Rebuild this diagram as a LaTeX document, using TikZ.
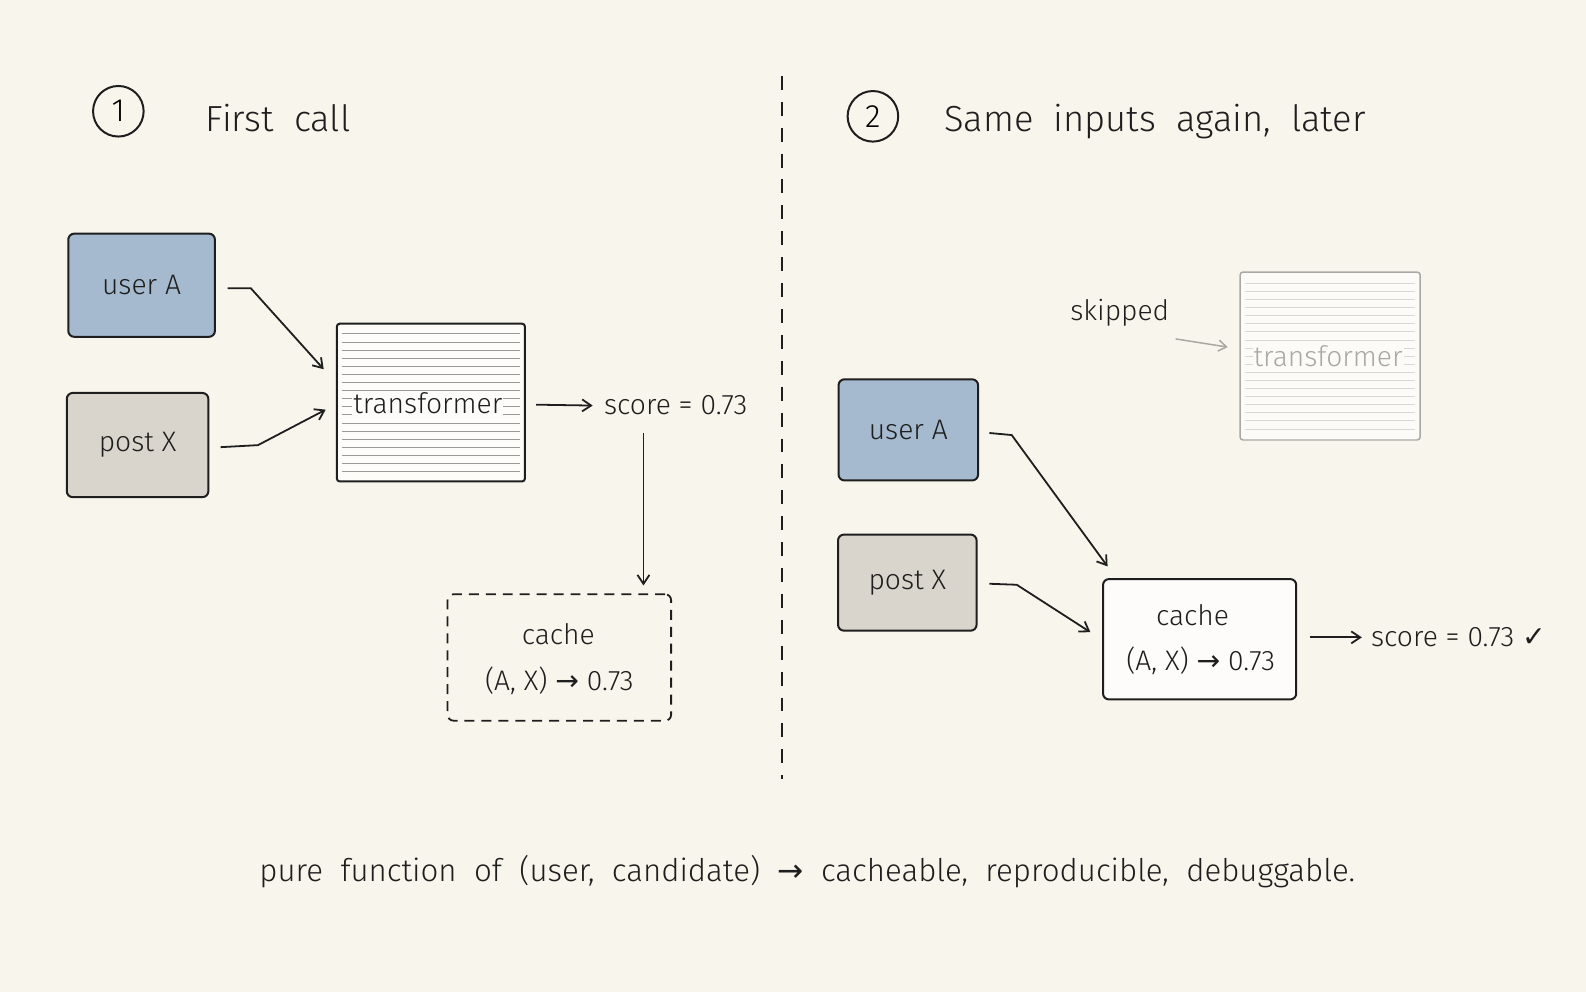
\documentclass[tikz,border=0pt]{standalone}
\usepackage{fontspec}
\setmainfont{Fira Sans}[UprightFont=* Light]
\newfontfamily\sym{DejaVu Sans}
\usetikzlibrary{arrows.meta}
\definecolor{bg}{HTML}{F8F5EC}
\definecolor{ink}{HTML}{1E1E1E}
\definecolor{bluef}{HTML}{A6BACF}
\definecolor{grayf}{HTML}{D9D5CC}
\definecolor{faint}{HTML}{A8A8A4}
\begin{document}
\begin{tikzpicture}[x=1bp,y=-1bp,scale=1.0115,every node/.append style={transform shape},
  box/.style={draw=ink,line width=2pt,rounded corners=6pt},
  lbl/.style={font=\fontsize{28}{32}\selectfont,text=ink},
  ttl/.style={font=\fontsize{36}{40}\selectfont,text=ink},
  arr/.style={draw=ink,line width=1.8pt,-{Straight Barb[length=9pt,width=12pt]}},
  num/.style={circle,draw=ink,line width=2pt,minimum size=50bp,inner sep=0pt,font=\fontsize{32}{34}\selectfont}]
\fill[bg] (0,0) rectangle (1568,980.7);
\useasboundingbox (0,0) rectangle (1568,980.7);
% headers
\node[num] (n1) at (117,110) {1};
\node[ttl,anchor=west] (t1) at (200,117) {First\ \ call};
\node[num] (n2) at (863,115) {2};
\node[ttl,anchor=west] (t2) at (930,120) {Same\ \ inputs\ \ again,\ \ later};
\coordinate (dtop) at (773,75); \coordinate (dbot) at (773,770);
\draw[ink,line width=1.6pt,dash pattern=on 14pt off 12pt] (dtop) -- (dbot);
% left panel
\node[box,fill=bluef,minimum width=145bp,minimum height=102bp,lbl] (ua) at (140,282) {user A};
\node[box,fill=grayf,minimum width=140bp,minimum height=103bp,lbl] (px) at (136,440) {post X};
\node[draw=ink,line width=2pt,rounded corners=3pt,fill=white!70!bg,minimum width=186bp,minimum height=156bp] (tr) at (426,398) {};
\foreach \y in {330,338,...,468} \draw[ink!45,line width=0.6pt] (338,\y) -- (514,\y);
\node[lbl,fill=white!70!bg,inner sep=1pt] (trl) at (423,399) {transformer};
\coordinate (a1) at (225,285); \coordinate (a1b) at (248,285);
\draw[arr] (a1) -- (a1b) -- (320,365);
\coordinate (a2) at (218,442); \coordinate (a2b) at (255,440);
\draw[arr] (a2) -- (a2b) -- (322,405);
\node[lbl] (sc) at (668,401) {score = 0.73};
\coordinate (tre) at (530,400);
\draw[arr,shorten >=8pt] (tre) -- (sc.west);
\node[draw=ink,line width=1.8pt,dash pattern=on 10pt off 7pt,rounded corners=6pt,minimum width=221bp,minimum height=125bp] (c1) at (553,650) {};
\node[lbl] (c1a) at (552,627) {cache};
\node[lbl] (c1b) at (553,673) {(A, X) {\sym →} 0.73};
\coordinate (s1) at (636,428);
\draw[arr,shorten >=8pt] (s1) -- (c1.north -| s1);
% right panel
\node[draw=faint,line width=1.5pt,rounded corners=3pt,fill=white!60!bg,minimum width=178bp,minimum height=166bp] (tr2) at (1315,352) {};
\foreach \y in {280,288,...,428} \draw[faint!45,line width=0.6pt] (1231,\y) -- (1399,\y);
\node[lbl,text=faint,fill=white!60!bg,inner sep=1pt] (tr2l) at (1313,352) {transformer};
\node[lbl] (sk) at (1107,309) {skipped};
\coordinate (sk1) at (1162,335);
\draw[draw=faint,line width=1.5pt,-{Straight Barb[length=8pt,width=11pt]},shorten >=12pt] (sk1) -- (tr2.west |- 0,345);
\node[box,fill=bluef,minimum width=138bp,minimum height=100bp,lbl] (ua2) at (898,425) {user A};
\node[box,fill=grayf,minimum width=137bp,minimum height=95bp,lbl] (px2) at (897,576) {post X};
\node[draw=ink,line width=2pt,rounded corners=6pt,fill=white!75!bg,minimum width=191bp,minimum height=119bp] (c2) at (1186,632) {};
\node[lbl] (c2a) at (1179,608) {cache};
\node[lbl] (c2b) at (1187,653) {(A, X) {\sym →} 0.73};
\coordinate (b1) at (978,428); \coordinate (b1b) at (1000,430);
\draw[arr] (b1) -- (b1b) -- (1095,560);
\coordinate (b2) at (978,577); \coordinate (b2b) at (1005,578);
\draw[arr] (b2) -- (b2b) -- (1078,625);
\node[lbl,anchor=west] (sc2) at (1352,630) {score = 0.73 {\sym ✓}};
\coordinate (c2e) at (1295,630);
\draw[arr,shorten >=6pt] (c2e) -- (sc2.west);
% bottom
\node[font=\fontsize{31}{35}\selectfont,text=ink] (bt) at (798,862) {pure\ \ function\ \ of\ \ (user,\ \ candidate)\ \ {\sym →}\ \ cacheable,\ \ reproducible,\ \ debuggable.};
\end{tikzpicture}
\end{document}
